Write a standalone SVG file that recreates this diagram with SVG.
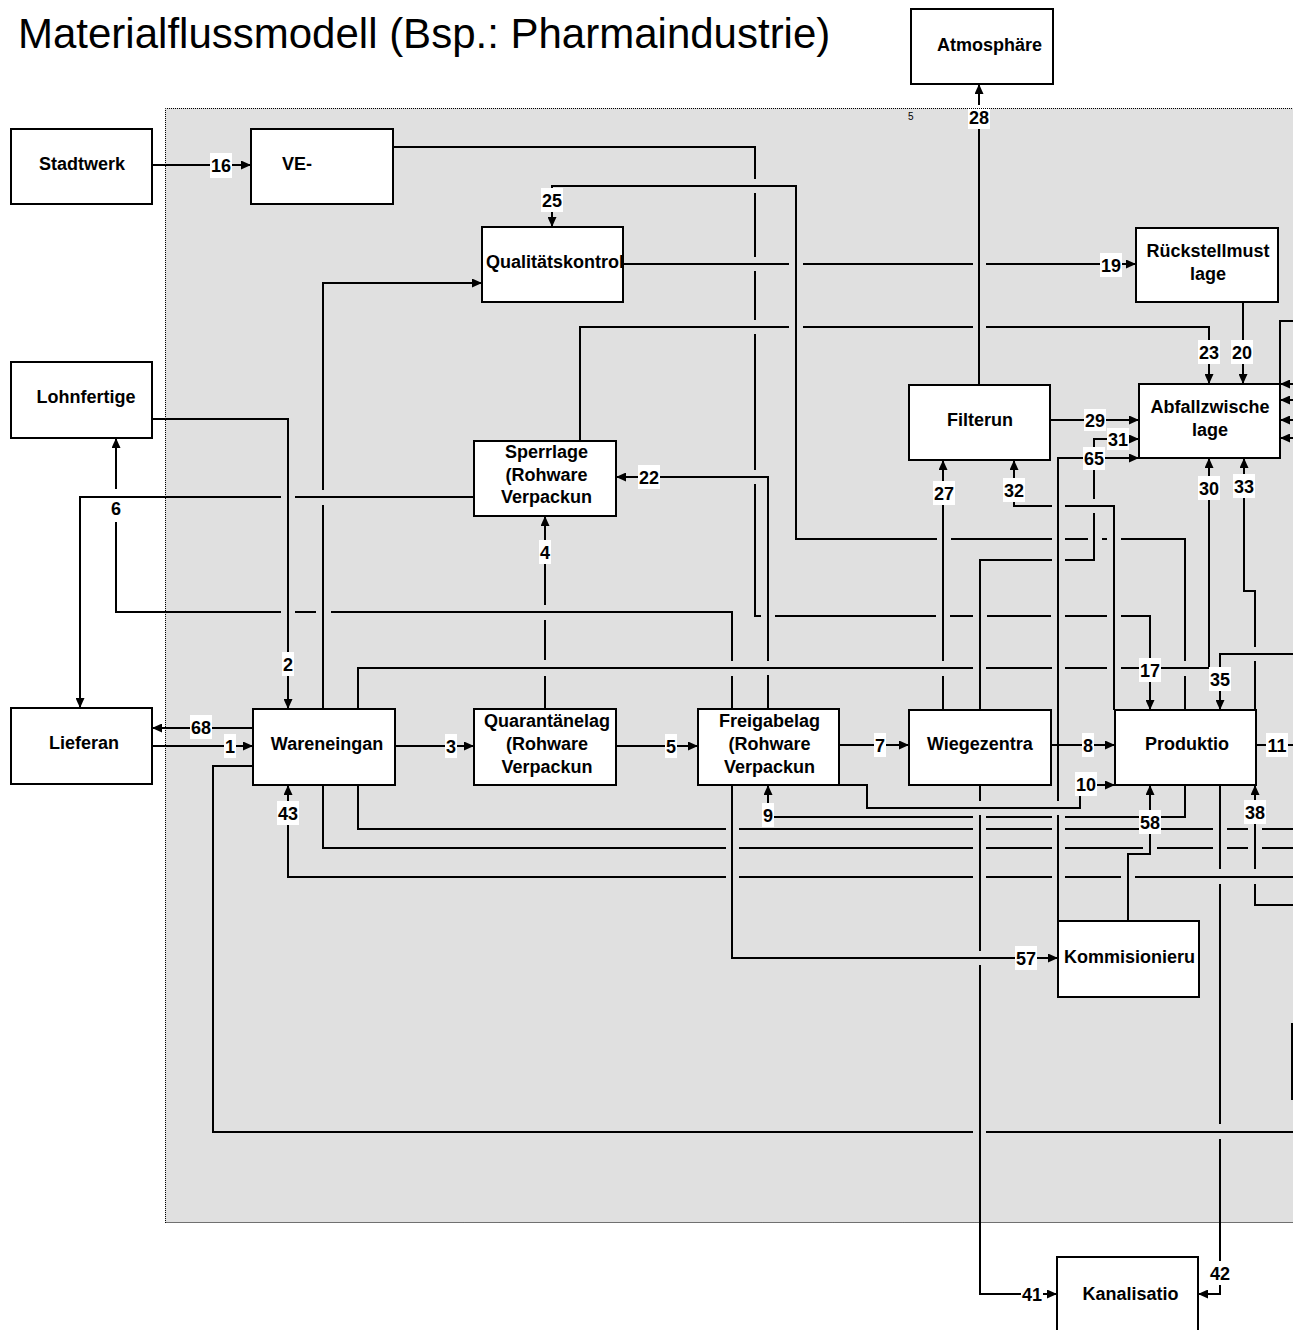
<svg xmlns="http://www.w3.org/2000/svg" width="1304" height="1330" viewBox="0 0 1304 1330">
<style>
.box{fill:#fff;stroke:#000;stroke-width:2}
.t{font-family:"Liberation Sans",Arial,sans-serif;font-weight:bold;font-size:18px;fill:#000}
.m{text-anchor:middle}
.c{fill:none;stroke:#000;stroke-width:2}
.a{marker-end:url(#arr)}
.lb{fill:#fff}
.dot{fill:none;stroke:#000;stroke-width:1;stroke-dasharray:1 1}
</style>
<defs>
<marker id="arr" markerUnits="userSpaceOnUse" markerWidth="10" markerHeight="9" refX="10" refY="4.5" orient="auto">
<path d="M0,0 L10,4.5 L0,9 z" fill="#000"/>
</marker>
</defs>
<rect x="0" y="0" width="1304" height="1330" fill="#fff"/>
<text x="18" y="48" style="font-family:'Liberation Sans',Arial,sans-serif;font-size:42px;fill:#000">Materialflussmodell (Bsp.: Pharmaindustrie)</text>
<rect id="region" x="165" y="108" width="1128" height="1115" fill="#e0e0e0"/>
<text x="908" y="120" style="font-family:'Liberation Sans',Arial,sans-serif;font-size:10px;fill:#000">5</text>

<g id="connectors">
<path class="c a" d="M152,165 H251"/>
<path class="c a" d="M393,147 H755 V179 M755,193 V257 M755,271 V320 M755,334 V470 M755,484 V616 H761 M775,616 H936 M950,616 H973 M987,616 H1051 M1065,616 H1107 M1121,616 H1150 V710"/>
<path class="c a" d="M768,709 V675 M768,661 V477 H616"/>
<path class="c a" d="M1185,710 V676 M1185,661 V539 H1121 M1107,539 H1102 M1088,539 H1065 M1052,539 H951 M937,539 H796 V186 H552 V227"/>
<path class="c a" d="M623,264 H789 M803,264 H973 M986,264 H1136"/>
<path class="c a" d="M580,441 V327 H789 M803,327 H973 M986,327 H1209 V384"/>
<path class="c a" d="M979,385 V84"/>
<path class="c a" d="M1243,302 V384"/>
<path class="c a" d="M1050,420 H1139"/>
<path class="c a" d="M980,710 V560 H1052 M1065,560 H1094 V513 M1094,499 V439 H1139"/>
<path class="c a" d="M1058,921 V815 M1058,801 V458 H1139"/>
<path class="c a" d="M943,710 V676 M943,661 V460"/>
<path class="c a" d="M1114,710 V506 H1065 M1052,506 H1014 V460"/>
<path class="c a" d="M358,709 V668 H973 M986,668 H1052 M1065,668 H1107 M1121,668 H1209 V458"/>
<path class="c a" d="M1255,710 V661 M1255,647 V591 H1244 V458"/>
<path class="c a" d="M1293,654 H1220 V710"/>
<path class="c a" d="M152,419 H288 V709"/>
<path class="c a" d="M323,709 V505 M323,490 V283 H482"/>
<path class="c a" d="M474,497 H295 M281,497 H80 V708"/>
<path class="c a" d="M732,709 V676 M732,661 V612 H331 M316,612 H295 M281,612 H116 V522 M116,489 V438"/>
<path class="c a" d="M545,709 V676 M545,660 V620 M545,605 V516"/>
<path class="c a" d="M152,746 H253"/>
<path class="c a" d="M253,728 H152"/>
<path class="c a" d="M395,746 H474"/>
<path class="c a" d="M616,746 H698"/>
<path class="c a" d="M839,745 H909"/>
<path class="c a" d="M1051,745 H1115"/>
<path class="c" d="M1256,745 H1293"/>
<path class="c a" d="M839,785 H867 V808 H1080 V785 H1115"/>
<path class="c a" d="M1185,785 V817 H1065 M1052,817 H986 M973,817 H768 V785"/>
<path class="c a" d="M1128,921 V854 H1150 V785"/>
<path class="c a" d="M1293,905 H1255 V884 M1255,869 V785"/>
<path class="c a" d="M1220,785 V869 M1220,884 V1124 M1220,1139 V1294 H1198"/>
<path class="c a" d="M980,785 V801 M980,815 V951 M980,965 V1294 H1057"/>
<path class="c a" d="M732,785 V958 H1058"/>
<path class="c a" d="M1293,877 H1135 M1121,877 H1065 M1052,877 H986 M973,877 H739 M726,877 H288 V785"/>
<path class="c" d="M358,785 V829 H726 M739,829 H973 M986,829 H1052 M1065,829 H1213 M1227,829 H1248 M1262,829 H1293"/>
<path class="c" d="M323,785 V848 H726 M739,848 H973 M986,848 H1052 M1065,848 H1143 M1157,848 H1213 M1227,848 H1248 M1262,848 H1293"/>
<path class="c" d="M253,766 H213 V1132 H973 M986,1132 H1293"/>
<path class="c" d="M1293,321 H1280 V384"/>
<path class="c a" d="M1293,384 H1280"/>
<path class="c a" d="M1293,400 H1280"/>
<path class="c a" d="M1293,420 H1280"/>
<path class="c a" d="M1293,438 H1280"/>

<g id="labels">
<rect class="lb" x="210" y="153" width="22" height="25"/><text class="t m" x="221" y="172">16</text>
<rect class="lb" x="541" y="188" width="22" height="24"/><text class="t m" x="552" y="206.5">25</text>
<rect class="lb" x="968" y="105" width="22" height="24"/><text class="t m" x="979" y="123.5">28</text>
<rect class="lb" x="1100" y="253" width="22" height="24"/><text class="t m" x="1111" y="271.5">19</text>
<rect class="lb" x="1198" y="340" width="22" height="24"/><text class="t m" x="1209" y="358.5">23</text>
<rect class="lb" x="1231" y="340" width="22" height="24"/><text class="t m" x="1242" y="358.5">20</text>
<rect class="lb" x="1084" y="409" width="22" height="22"/><text class="t m" x="1095" y="426.5">29</text>
<rect class="lb" x="1107" y="428" width="22" height="22"/><text class="t m" x="1118" y="445.5">31</text>
<rect class="lb" x="1083" y="447" width="22" height="23"/><text class="t m" x="1094" y="464.5">65</text>
<rect class="lb" x="933" y="481" width="22" height="24"/><text class="t m" x="944" y="499.5">27</text>
<rect class="lb" x="1003" y="478" width="22" height="24"/><text class="t m" x="1014" y="496.5">32</text>
<rect class="lb" x="1198" y="476" width="22" height="24"/><text class="t m" x="1209" y="494.5">30</text>
<rect class="lb" x="1233" y="474" width="22" height="24"/><text class="t m" x="1244" y="492.5">33</text>
<rect class="lb" x="110" y="498" width="12" height="23"/><text class="t m" x="116" y="515">6</text>
<rect class="lb" x="282" y="652" width="12" height="24"/><text class="t m" x="288" y="670.5">2</text>
<rect class="lb" x="638" y="465" width="22" height="24"/><text class="t m" x="649" y="483.5">22</text>
<rect class="lb" x="539" y="540" width="12" height="24"/><text class="t m" x="545" y="558.5">4</text>
<rect class="lb" x="190" y="715" width="22" height="24"/><text class="t m" x="201" y="733.5">68</text>
<rect class="lb" x="224" y="734" width="12" height="24"/><text class="t m" x="230" y="752.5">1</text>
<rect class="lb" x="277" y="801" width="22" height="24"/><text class="t m" x="288" y="819.5">43</text>
<rect class="lb" x="445" y="734" width="12" height="24"/><text class="t m" x="451" y="752.5">3</text>
<rect class="lb" x="665" y="734" width="12" height="24"/><text class="t m" x="671" y="752.5">5</text>
<rect class="lb" x="762" y="803" width="12" height="24"/><text class="t m" x="768" y="821.5">9</text>
<rect class="lb" x="874" y="733" width="12" height="24"/><text class="t m" x="880" y="751.5">7</text>
<rect class="lb" x="1082" y="733" width="12" height="24"/><text class="t m" x="1088" y="751.5">8</text>
<rect class="lb" x="1075" y="772" width="22" height="24"/><text class="t m" x="1086" y="790.5">10</text>
<rect class="lb" x="1139" y="658" width="22" height="24"/><text class="t m" x="1150" y="676.5">17</text>
<rect class="lb" x="1209" y="667" width="22" height="24"/><text class="t m" x="1220" y="685.5">35</text>
<rect class="lb" x="1266" y="733" width="22" height="24"/><text class="t m" x="1277" y="751.5">11</text>
<rect class="lb" x="1139" y="810" width="22" height="24"/><text class="t m" x="1150" y="828.5">58</text>
<rect class="lb" x="1244" y="800" width="22" height="24"/><text class="t m" x="1255" y="818.5">38</text>
<rect class="lb" x="1015" y="946" width="22" height="24"/><text class="t m" x="1026" y="964.5">57</text>
<rect class="lb" x="1021" y="1282" width="22" height="24"/><text class="t m" x="1032" y="1300.5">41</text>
<rect class="lb" x="1209" y="1261" width="22" height="24"/><text class="t m" x="1220" y="1279.5">42</text>
</g>
</g>

<path class="dot" d="M165.5,1223 V108.5 H1293 M165.5,1222.5 H1293"/>

<g id="n-stadtwerk"><rect class="box" x="11" y="129" width="141" height="75"/><text class="t m" x="82" y="170">Stadtwerk</text></g>
<g id="n-ve"><rect class="box" x="251" y="129" width="142" height="75"/><text class="t" x="282" y="170">VE-</text></g>
<g id="n-qk"><rect class="box" x="482" y="227" width="141" height="75"/><text class="t" x="486" y="268">Qualitätskontrol</text></g>
<g id="n-atmosphaere"><rect class="box" x="911" y="9" width="142" height="75"/><text class="t m" x="989.5" y="51">Atmosphäre</text></g>
<g id="n-rueckstell"><rect class="box" x="1136" y="228" width="142" height="74"/><text class="t m" x="1208" y="257">Rückstellmust</text><text class="t m" x="1208" y="280">lage</text></g>
<g id="n-lohnfertiger"><rect class="box" x="11" y="362" width="141" height="76"/><text class="t m" x="86" y="403">Lohnfertige</text></g>
<g id="n-filterung"><rect class="box" x="909" y="385" width="141" height="75"/><text class="t m" x="980" y="426">Filterun</text></g>
<g id="n-abfall"><rect class="box" x="1139" y="384" width="141" height="74"/><text class="t m" x="1210" y="413">Abfallzwische</text><text class="t m" x="1210" y="436">lage</text></g>
<g id="n-sperrlager"><rect class="box" x="474" y="441" width="142" height="75"/><text class="t m" x="546.5" y="458">Sperrlage</text><text class="t m" x="546.5" y="480.5">(Rohware</text><text class="t m" x="546.5" y="503">Verpackun</text></g>
<g id="n-lieferant"><rect class="box" x="11" y="708" width="141" height="76"/><text class="t m" x="84" y="749">Lieferan</text></g>
<g id="n-wareneingang"><rect class="box" x="253" y="709" width="142" height="76"/><text class="t m" x="327" y="750">Wareneingan</text></g>
<g id="n-quarantaene"><rect class="box" x="474" y="709" width="142" height="76"/><text class="t m" x="547" y="727">Quarantänelag</text><text class="t m" x="547" y="750">(Rohware</text><text class="t m" x="547" y="773">Verpackun</text></g>
<g id="n-freigabe"><rect class="box" x="698" y="709" width="141" height="76"/><text class="t m" x="769.5" y="727">Freigabelag</text><text class="t m" x="769.5" y="750">(Rohware</text><text class="t m" x="769.5" y="773">Verpackun</text></g>
<g id="n-wiegezentrale"><rect class="box" x="909" y="710" width="142" height="75"/><text class="t" x="927" y="750">Wiegezentra</text></g>
<g id="n-produktion"><rect class="box" x="1115" y="710" width="141" height="75"/><text class="t m" x="1187" y="750">Produktio</text></g>
<g id="n-kommissionierung"><rect class="box" x="1058" y="921" width="141" height="76"/><text class="t" x="1064" y="963">Kommisionieru</text></g>
<g id="n-kanalisation"><rect class="box" x="1057" y="1257" width="141" height="90"/><text class="t m" x="1130.5" y="1300">Kanalisatio</text></g>
<g id="n-partial"><path class="c" d="M1293,1024 H1292 V1099 H1293"/></g>
</svg>
